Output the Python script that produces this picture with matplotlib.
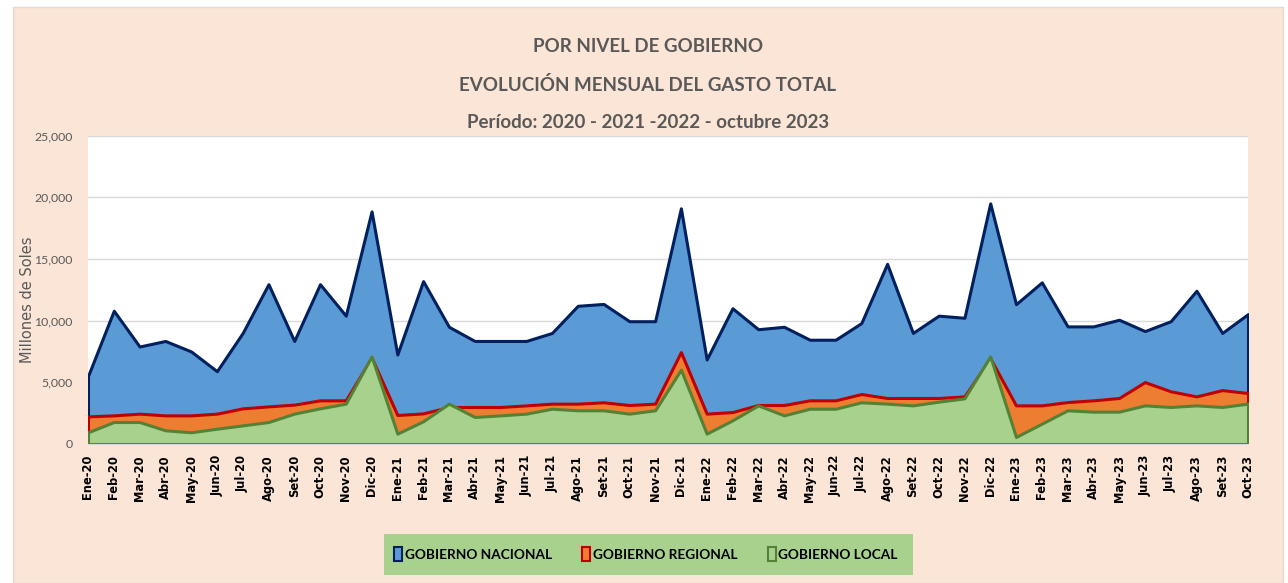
import matplotlib
matplotlib.use("Agg")
import matplotlib.pyplot as plt
from matplotlib.patches import Rectangle, Patch
import numpy as np

meses = ["Ene", "Feb", "Mar", "Abr", "May", "Jun", "Jul", "Ago", "Set", "Oct", "Nov", "Dic"]
etiquetas = [f"{m}-{a}" for a in ["20", "21", "22"] for m in meses] + \
            [f"{m}-23" for m in meses[:10]]

nacional = [5500, 10800, 7900, 8350, 7500, 5900, 9000, 12950, 8350, 12950, 10400, 18850,
            7250, 13200, 9500, 8350, 8350, 8350, 9000, 11200, 11350, 9950, 9950, 19100,
            6850, 11000, 9300, 9500, 8450, 8450, 9800, 14600, 9000, 10400, 10230, 19500,
            11330, 13100, 9530, 9530, 10070, 9150, 9950, 12420, 9000, 10530]
regional = [2240, 2320, 2460, 2320, 2320, 2460, 2890, 3050, 3190, 3540, 3540, 7000,
            2350, 2480, 3000, 3000, 3000, 3130, 3270, 3270, 3380, 3160, 3270, 7450,
            2460, 2590, 3160, 3160, 3540, 3540, 4050, 3730, 3730, 3730, 3860, 6950,
            3130, 3130, 3400, 3540, 3730, 5020, 4270, 3860, 4370, 4130]
local = [950, 1780, 1780, 1110, 950, 1240, 1510, 1780, 2460, 2890, 3270, 7100,
         840, 1840, 3270, 2190, 2320, 2460, 2860, 2730, 2730, 2460, 2730, 6020,
         840, 1920, 3130, 2320, 2860, 2860, 3380, 3270, 3130, 3430, 3700, 7100,
         570, 1650, 2730, 2620, 2620, 3130, 3000, 3130, 3000, 3270]

series = ["GOBIERNO NACIONAL", "GOBIERNO REGIONAL", "GOBIERNO LOCAL"]
fills = ["#5B9BD5", "#ED7D31", "#A9D18E"]
edges = ["#002060", "#C00000", "#548235"]

W, H = 1288, 583
fig = plt.figure(figsize=(W / 100, H / 100), dpi=100)
fig.patch.set_facecolor("white")
fig.add_artist(Rectangle((13 / W, 0), (1283 - 13) / W, (H - 7) / H, transform=fig.transFigure,
                         facecolor="#FBE5D6", edgecolor="#E6DAD2", linewidth=1.0, zorder=0))

ax = fig.add_axes([88 / W, (H - 444) / H, (1248 - 88) / W, (444 - 135.5) / H])
ax.set_facecolor("white")
x = np.arange(len(etiquetas))
for vals, fc, ec in zip([nacional, regional, local], fills, edges):
    ax.fill_between(x, 0, vals, facecolor=fc, edgecolor=ec, linewidth=2.2, zorder=2)

ax.set_xlim(0, len(etiquetas) - 1)
ax.set_ylim(0, 25000)
ax.set_yticks(np.arange(0, 25001, 5000))
ax.set_yticklabels([f"{v:,}" for v in range(0, 25001, 5000)],
                   fontsize=8.8, color="#595959", family=["Lato", "DejaVu Sans"])
ax.grid(axis="y", color="#D9D9D9", linewidth=1.0, zorder=1)
ax.set_axisbelow(True)
ax.set_xticks(x)
ax.set_xticklabels(etiquetas, rotation=90, fontsize=8.3, fontweight="bold", color="black",
                   family="DejaVu Sans")
ax.tick_params(length=0, pad=8)
ax.tick_params(axis="y", pad=11)
for s in ["top", "right", "left"]:
    ax.spines[s].set_visible(False)
ax.spines["bottom"].set_color("#D9D9D9")
fig.text(28 / W, 1 - 300 / H, "Millones de Soles", rotation=90, fontsize=10.5, color="#595959",
         family="DejaVu Sans", ha="center", va="center")

tfont = dict(fontsize=13.5, fontweight="bold", color="#595959", ha="center", va="center",
             family=["Lato", "DejaVu Sans"])
fig.text(648 / W, 1 - 47 / H, "POR NIVEL DE GOBIERNO", **tfont)
fig.text(648 / W, 1 - 85 / H, "EVOLUCIÓN MENSUAL DEL GASTO TOTAL", **tfont)
fig.text(648 / W, 1 - 122 / H, "Período: 2020 - 2021 -2022 - octubre 2023", **tfont)

fig.add_artist(Rectangle((384 / W, (H - 575) / H), (913 - 384) / W, 41 / H, transform=fig.transFigure,
                         facecolor="#A9D18E", edgecolor="none", zorder=1))
handles = [Patch(facecolor=fc, edgecolor=ec, linewidth=1.5, label=lab)
           for fc, ec, lab in zip(fills, edges, series)]
leg = fig.legend(handles=handles, loc="center", bbox_to_anchor=(646 / W, 1 - 554 / H), ncol=3,
                 frameon=False, handlelength=0.6, handleheight=1.2, handletextpad=0.2,
                 columnspacing=2.2,
                 prop={"family": ["Lato", "DejaVu Sans"], "weight": "bold", "size": 9.8})

fig.savefig("out.png", dpi=100)
